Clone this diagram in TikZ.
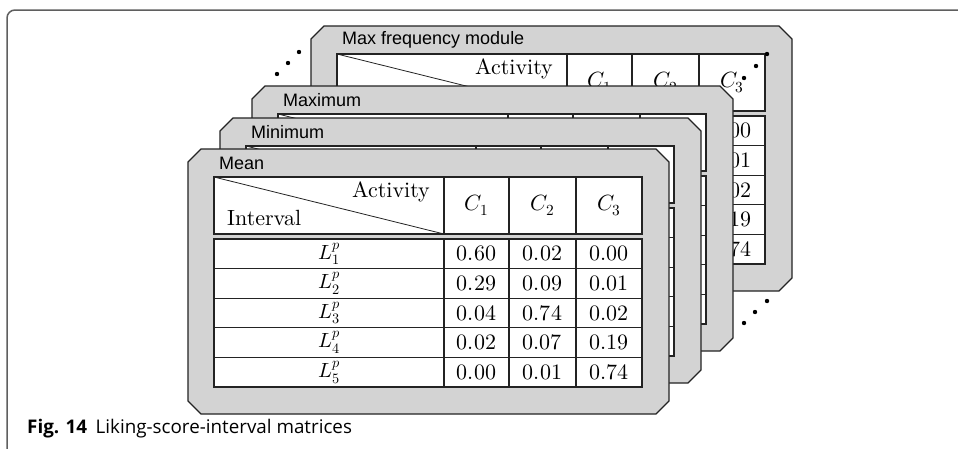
\documentclass[tikz,border=0pt]{standalone}
\usepackage{fontspec}
\usepackage{unicode-math}
\setmainfont{lmroman10-regular.otf}
\setmathfont{Latin Modern Math}
\newfontfamily\panelfont{Liberation Sans}
\newfontfamily\capfont{Open Sans}

\definecolor{panelgray}{RGB}{211,211,211}
\definecolor{linegray}{RGB}{35,35,35}
\definecolor{framegray}{RGB}{95,95,95}

\tikzset{
  x=1pt, y=-1pt,
  panel/.style={draw=linegray, line width=1.3pt, fill=panelgray, line join=miter},
  cellbox/.style={draw=linegray, line width=1.1pt, fill=white},
  gridline/.style={draw=linegray, line width=1.1pt},
  paneltitle/.style={anchor=west, inner sep=0pt, font=\panelfont\fontsize{18}{21}\selectfont},
  cmtext/.style={inner sep=0pt, font=\fontsize{22}{26}\selectfont},
  rowlabel/.style={inner sep=0pt, font=\fontsize{20.5}{24}\selectfont},
  captext/.style={anchor=base west, inner sep=0pt, font=\capfont\fontsize{18.8}{22}\selectfont},
  dotmark/.style={fill=black, draw=none},
}

% One matrix panel: chamfered card, title, header table and data table grid.
% #1 name prefix, #2 x, #3 y, #4 title
\newcommand\matpanel[4]{%
  \begin{scope}[shift={(#2,#3)}]
    \draw[panel] (13,0) -- (468,0) -- (481,13) -- (481,252) -- (468,265)
      -- (13,265) -- (0,252) -- (0,13) -- cycle;
    \node[paneltitle] (#1-title) at (31,14) {#4};
    % header row
    \draw[cellbox] (26,28) rectangle (454,85);
    \draw[gridline] (256,28) -- (256,85) (321,28) -- (321,85) (388,28) -- (388,85);
    \draw[gridline, line width=0.8pt] (26,28) -- (256,85);
    % data rows
    \draw[cellbox] (26,90) rectangle (454,238);
    \draw[gridline] (256,90) -- (256,238) (321,90) -- (321,238) (388,90) -- (388,238);
    \draw[gridline] (26,119.6) -- (454,119.6) (26,149.2) -- (454,149.2)
      (26,178.8) -- (454,178.8) (26,208.4) -- (454,208.4);
  \end{scope}}

\begin{document}
\begin{tikzpicture}
\useasboundingbox (0,0) rectangle (958,448);
\clip (0,0) rectangle (958,448);
\fill[white] (0,0) rectangle (958,448);

% figure frame
\draw[framegray, line width=1.5pt, rounded corners=8pt] (7,470) -- (7,10) -- (980,10);

% back panel: max frequency module
\matpanel{mf}{311}{26}{Max frequency module}
\begin{scope}[shift={(311,26)}]
  \node[cmtext, anchor=base east] (mf-act) at (242,48) {Activity};
  \node[cmtext] (mf-c1) at (288.5,56.5) {$C_1$};
  \node[cmtext] (mf-c2) at (354.5,56.5) {$C_2$};
  \node[cmtext] (mf-c3) at (421,56.5) {$C_3$};
  \foreach \v [count=\k] in {0.00,0.01,0.02,0.19,0.74} {
    \pgfmathsetmacro\yy{90+(\k-1)*29.6+14.8}
    \node[cmtext] (mf-v\k) at (421,\yy) {$\v$};
  }
\end{scope}

% maximum and minimum panels
\matpanel{mx}{252}{86}{Maximum}
\matpanel{mn}{220}{118}{Minimum}

% front panel: mean
\matpanel{me}{188}{149}{Mean}
\begin{scope}[shift={(188,149)}]
  \node[cmtext, anchor=base east] (me-act) at (242,48) {Activity};
  \node[cmtext, anchor=base west] (me-int) at (39,76) {Interval};
  \node[cmtext] (me-c1) at (288.5,56.5) {$C_1$};
  \node[cmtext] (me-c2) at (354.5,56.5) {$C_2$};
  \node[cmtext] (me-c3) at (421,56.5) {$C_3$};
  \foreach \a/\b/\c [count=\k] in {0.60/0.02/0.00, 0.29/0.09/0.01,
      0.04/0.74/0.02, 0.02/0.07/0.19, 0.00/0.01/0.74} {
    \pgfmathsetmacro\yy{90+(\k-1)*29.6+14.8}
    \node[rowlabel] (me-l\k) at (141,\yy) {$L^p_{\k}$};
    \node[cmtext] (me-a\k) at (288.5,\yy) {$\a$};
    \node[cmtext] (me-b\k) at (354.5,\yy) {$\b$};
    \node[cmtext] (me-c\k) at (421,\yy) {$\c$};
  }
\end{scope}

% ellipsis dots between the stacked panels
\foreach \px/\py [count=\k] in {277/74, 288/63, 299/52} {
  \fill[dotmark] (\px,\py) circle (2.2pt) coordinate (dl\k);
}
\foreach \px/\py [count=\k] in {744/78, 756/66, 767/54} {
  \fill[dotmark] (\px,\py) circle (2.2pt) coordinate (dr\k);
}
\foreach \px/\py [count=\k] in {744/323, 755/312, 767/301} {
  \fill[dotmark] (\px,\py) circle (2.2pt) coordinate (db\k);
}

% caption
\node[captext] (caption) at (27,433)
  {\textbf{Fig. 14}\hspace{0.45em}Liking-score-interval matrices};
\end{tikzpicture}
\end{document}
